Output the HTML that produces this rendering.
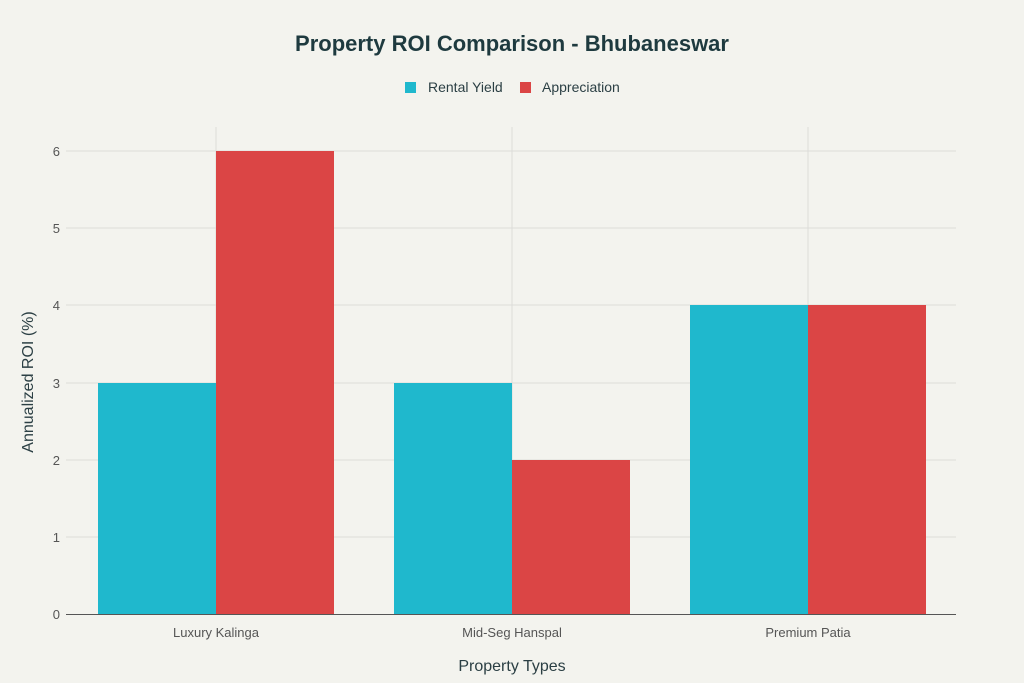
<!DOCTYPE html>
<html><head><meta charset="utf-8"><style>
body{margin:0;background:#F3F3EE;}
svg{display:block;font-family:"Liberation Sans",sans-serif;}
</style></head><body>
<svg width="1024" height="683" viewBox="0 0 1024 683">
<rect width="1024" height="683" fill="#F3F3EE"/>
<text x="512" y="51" text-anchor="middle" font-size="22" font-weight="bold" fill="#1E3A3F">Property ROI Comparison - Bhubaneswar</text>
<rect x="405" y="82" width="11" height="11" fill="#1FB8CD"/>
<text x="428" y="92" font-size="14" fill="#2B3F44">Rental Yield</text>
<rect x="520" y="82" width="11" height="11" fill="#DB4545"/>
<text x="542" y="92" font-size="14" fill="#2B3F44">Appreciation</text>
<g stroke="#DDDDD8" stroke-width="1">
<line x1="216" y1="127" x2="216" y2="614"/>
<line x1="512" y1="127" x2="512" y2="614"/>
<line x1="808" y1="127" x2="808" y2="614"/>
<line x1="66" y1="537" x2="956" y2="537"/>
<line x1="66" y1="460" x2="956" y2="460"/>
<line x1="66" y1="383" x2="956" y2="383"/>
<line x1="66" y1="305" x2="956" y2="305"/>
<line x1="66" y1="228" x2="956" y2="228"/>
<line x1="66" y1="151" x2="956" y2="151"/>
</g>
<rect x="98" y="383" width="118" height="231" fill="#1FB8CD"/>
<rect x="216" y="151" width="118" height="463" fill="#DB4545"/>
<rect x="394" y="383" width="118" height="231" fill="#1FB8CD"/>
<rect x="512" y="460" width="118" height="154" fill="#DB4545"/>
<rect x="690" y="305" width="118" height="309" fill="#1FB8CD"/>
<rect x="808" y="305" width="118" height="309" fill="#DB4545"/>
<line x1="66" y1="614.5" x2="956" y2="614.5" stroke="#555" stroke-width="1"/>
<g font-size="13" fill="#555" text-anchor="end">
<text x="60" y="619">0</text><text x="60" y="542">1</text><text x="60" y="465">2</text>
<text x="60" y="388">3</text><text x="60" y="310">4</text><text x="60" y="233">5</text><text x="60" y="156">6</text>
</g>
<g font-size="13" fill="#555" text-anchor="middle">
<text x="216" y="637">Luxury Kalinga</text><text x="512" y="637">Mid-Seg Hanspal</text><text x="808" y="637">Premium Patia</text>
</g>
<text x="512" y="671" text-anchor="middle" font-size="16" fill="#2B3F44">Property Types</text>
<text transform="translate(33,382) rotate(-90)" text-anchor="middle" font-size="16" fill="#2B3F44">Annualized ROI (%)</text>
</svg>
</body></html>
